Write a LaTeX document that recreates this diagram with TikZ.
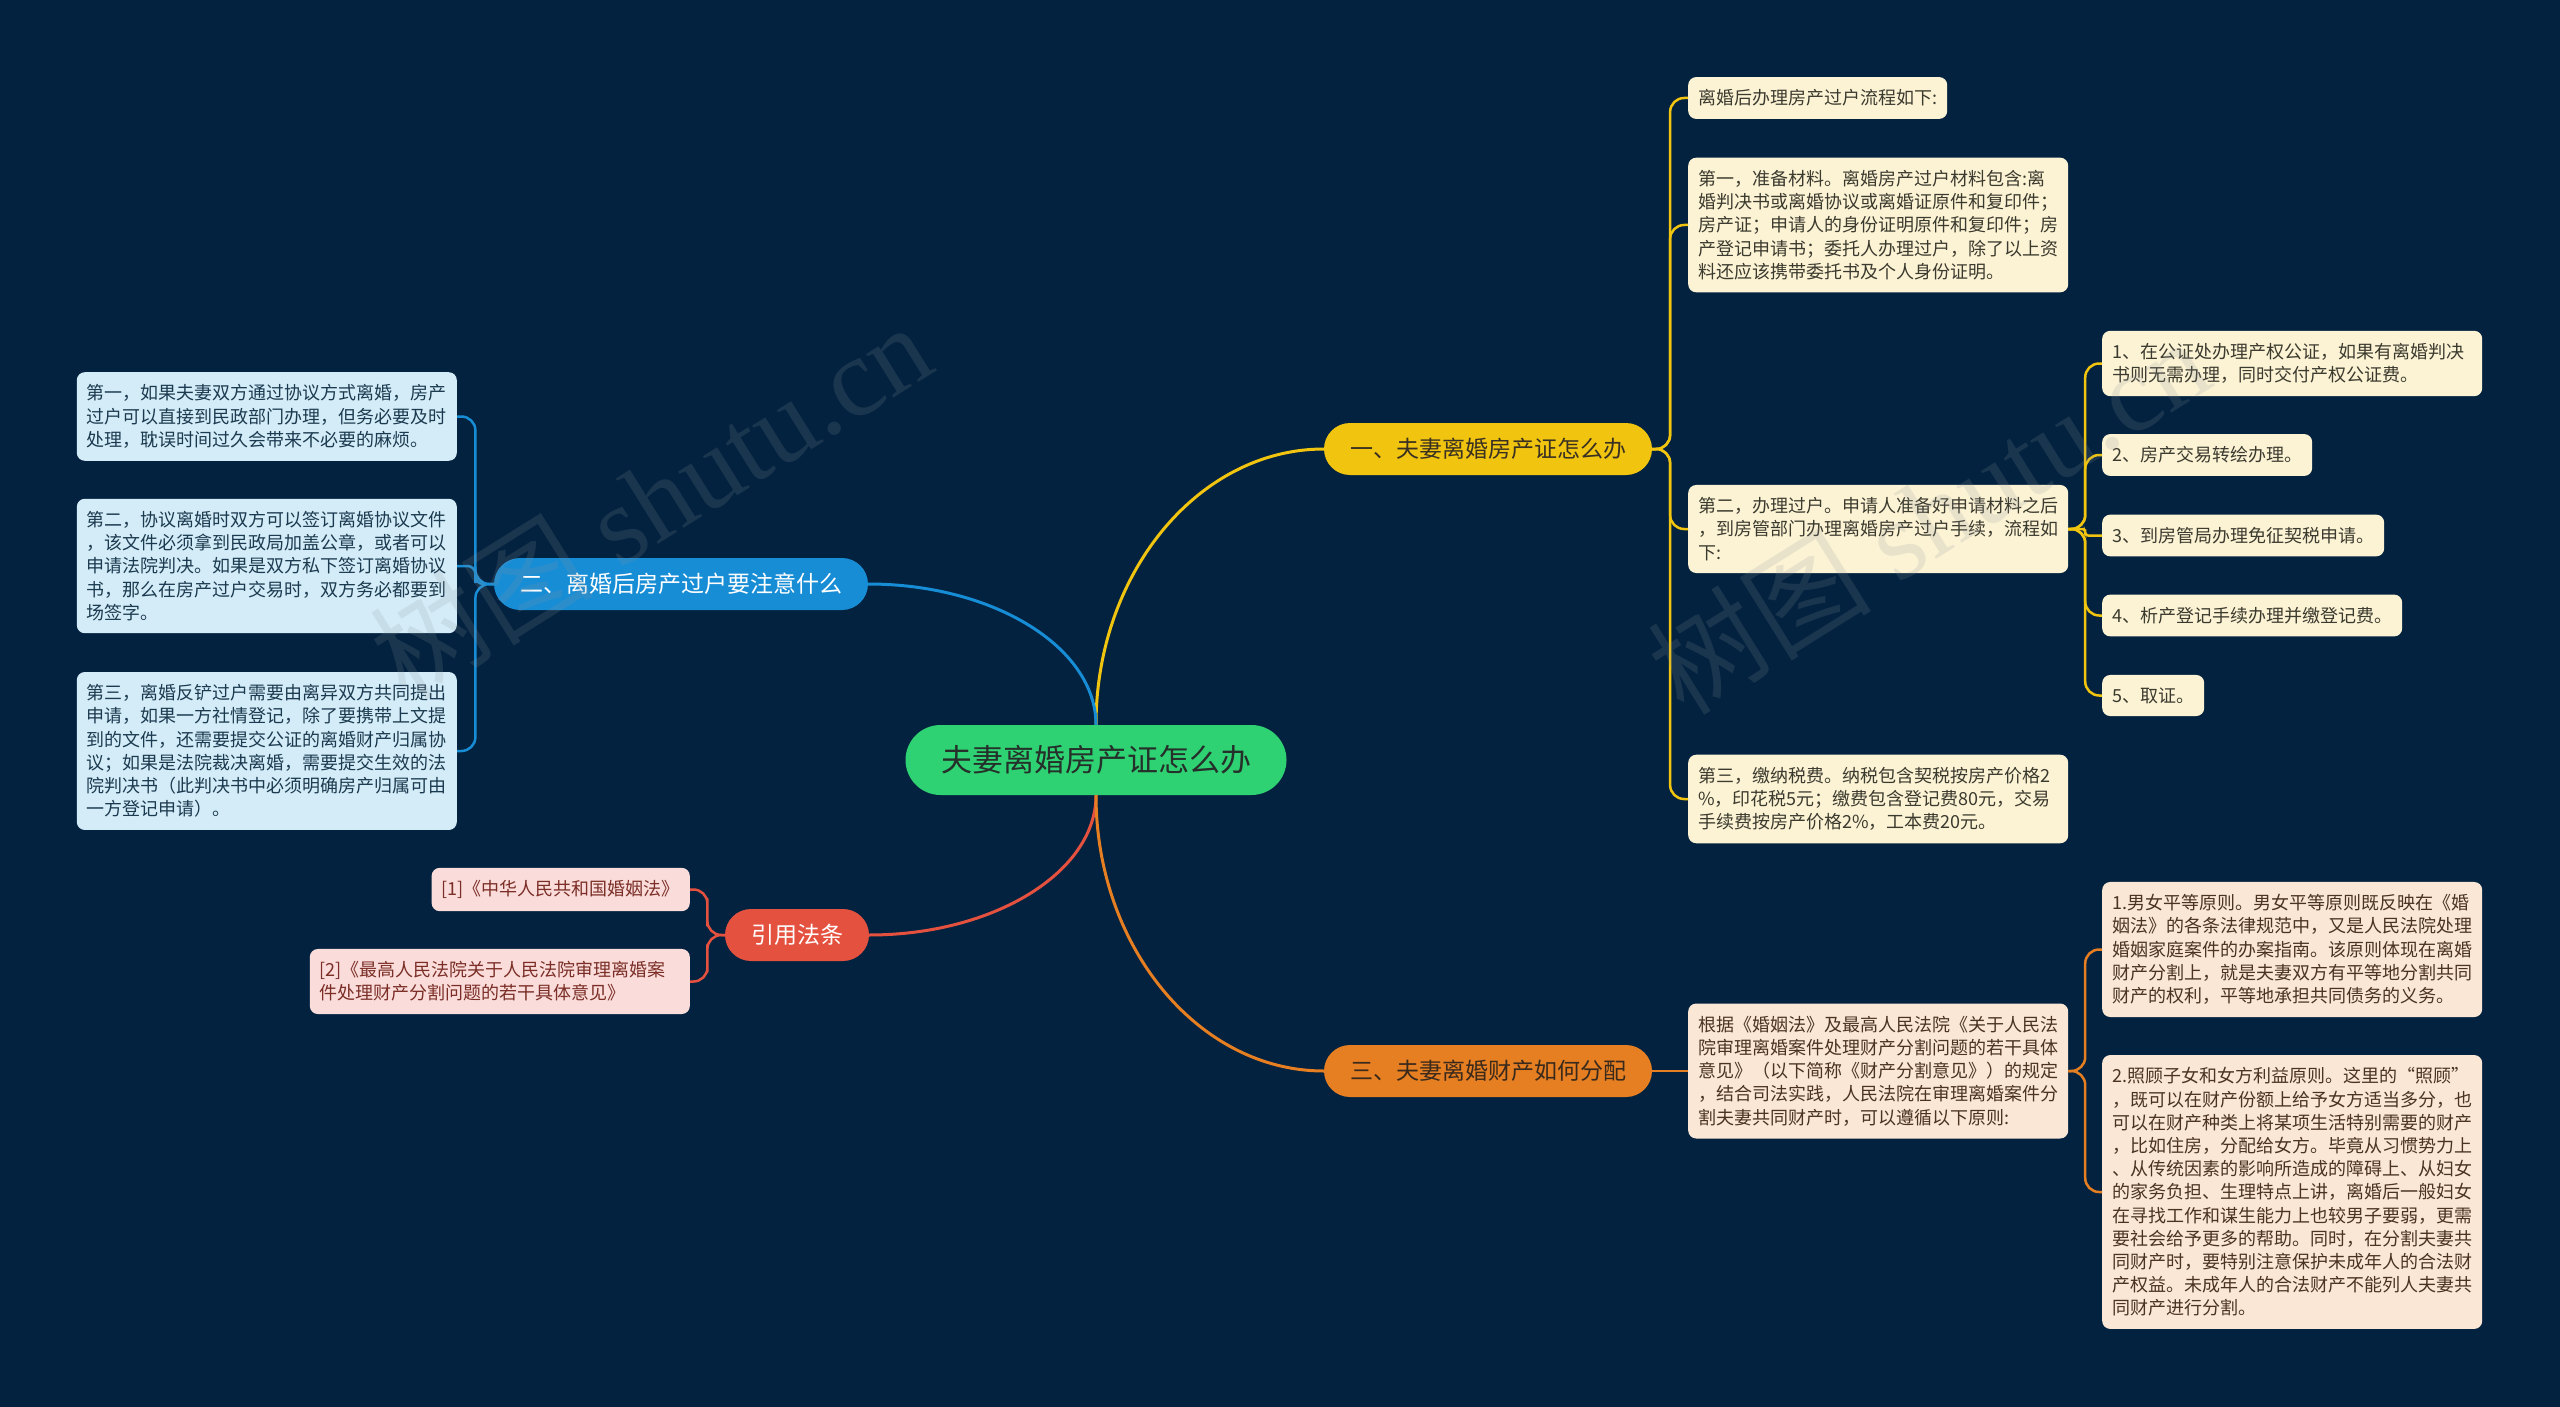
\documentclass[tikz,border=0pt]{standalone}
\usepackage{fontspec}
\newfontfamily\cjk{Noto Sans CJK SC}
\newfontfamily\wmserif{Liberation Serif}
\usetikzlibrary{calc}
\definecolor{bgc}{HTML}{03223F}
\definecolor{grn}{HTML}{2FD273}
\definecolor{ctext}{HTML}{25302A}
\definecolor{yel}{HTML}{F1C40F}
\definecolor{blu}{HTML}{178DD6}
\definecolor{red1}{HTML}{E5513F}
\definecolor{ora}{HTML}{E67E22}
\definecolor{ybtext}{HTML}{3A3122}
\definecolor{obtext}{HTML}{3A2A1C}
\definecolor{yfill}{HTML}{FCF3D5}
\definecolor{ytext}{HTML}{3B3A2E}
\definecolor{bfill}{HTML}{D3ECF8}
\definecolor{btext}{HTML}{1C3A4F}
\definecolor{rfill}{HTML}{FADCDA}
\definecolor{rtext}{HTML}{7A2E26}
\definecolor{ofill}{HTML}{FBE7D6}
\definecolor{otext}{HTML}{4A3322}
\definecolor{wmc}{HTML}{8F949A}
\newcommand\tlink[3]{\draw[link,#1] (#2) -| ($(#2)!0.5!(#3)$) |- (#3);}
\newcommand\mcurve[3]{\draw[mainlink,#1] (#2) .. controls ($(#2)!0.55!(#2 |- #3)$) and ($(#3)!0.55!(#2 |- #3)$) .. (#3);}
\begin{document}
\begin{tikzpicture}[x=1pt,y=-1pt,
  centernode/.style={fill=grn, text=ctext, rounded corners=35pt, minimum height=70pt, minimum width=381pt, inner sep=0pt, font={\cjk\fontsize{31pt}{36pt}\selectfont}},
  branch/.style={rounded corners=26pt, minimum height=52pt, inner xsep=26pt, inner ysep=0pt, font={\cjk\fontsize{23pt}{28pt}\selectfont}},
  leafbase/.style={rounded corners=8pt, inner xsep=10pt, inner ysep=12.5pt, align=left, font={\cjk\fontsize{18pt}{23.2pt}\selectfont}},
  wide/.style={text width=360pt},
  yleaf/.style={leafbase, fill=yfill, text=ytext},
  bleaf/.style={leafbase, fill=bfill, text=btext},
  rleaf/.style={leafbase, fill=rfill, text=rtext},
  oleaf/.style={leafbase, fill=ofill, text=otext},
  link/.style={line width=2.5pt, rounded corners=14pt},
  mainlink/.style={line width=3pt},
  wm/.style={rotate=32, text=wmc, text opacity=0.17, inner sep=0pt, font={\fontsize{112pt}{120pt}\selectfont}}
]
\useasboundingbox (0,0) rectangle (2560,1407);
\fill[bgc] (0,0) rectangle (2560,1407);
\clip (0,0) rectangle (2560,1407);

% center and branches
\node[centernode] (c) at (1096,760) {夫妻离婚房产证怎么办};
\node[branch, fill=yel, text=ybtext] (b1) at (1488,449) {一、夫妻离婚房产证怎么办};
\node[branch, fill=blu, text=white] (b2) at (681,584) {二、离婚后房产过户要注意什么};
\node[branch, fill=red1, text=white] (b3) at (797,935) {引用法条};
\node[branch, fill=ora, text=obtext] (b4) at (1488,1071) {三、夫妻离婚财产如何分配};

% branch 1 leaves
\node[yleaf, anchor=west] (y1) at (1688,98) {离婚后办理房产过户流程如下:};
\node[yleaf, wide, anchor=west] (y2) at (1688,225) {第一，准备材料。离婚房产过户材料包含:离\\婚判决书或离婚协议或离婚证原件和复印件；\\房产证；申请人的身份证明原件和复印件；房\\产登记申请书；委托人办理过户，除了以上资\\料还应该携带委托书及个人身份证明。};
\node[yleaf, wide, anchor=west] (y3) at (1688,529) {第二，办理过户。申请人准备好申请材料之后\\，到房管部门办理离婚房产过户手续，流程如\\下:};
\node[yleaf, wide, anchor=west] (y4) at (1688,799) {第三，缴纳税费。纳税包含契税按房产价格2\\\%，印花税5元；缴费包含登记费80元，交易\\手续费按房产价格2\%，工本费20元。};
\node[yleaf, wide, anchor=west] (s1) at (2102,363.5) {1、在公证处办理产权公证，如果有离婚判决\\书则无需办理，同时交付产权公证费。};
\node[yleaf, anchor=west] (s2) at (2102,455) {2、房产交易转绘办理。};
\node[yleaf, anchor=west] (s3) at (2102,535.5) {3、到房管局办理免征契税申请。};
\node[yleaf, anchor=west] (s4) at (2102,615.5) {4、析产登记手续办理并缴登记费。};
\node[yleaf, anchor=west] (s5) at (2102,695.5) {5、取证。};

% branch 2 leaves
\node[bleaf, wide, anchor=east] (l1) at (457,416.5) {第一，如果夫妻双方通过协议方式离婚，房产\\过户可以直接到民政部门办理，但务必要及时\\处理，耽误时间过久会带来不必要的麻烦。};
\node[bleaf, wide, anchor=east] (l2) at (457,566) {第二，协议离婚时双方可以签订离婚协议文件\\，该文件必须拿到民政局加盖公章，或者可以\\申请法院判决。如果是双方私下签订离婚协议\\书，那么在房产过户交易时，双方务必都要到\\场签字。};
\node[bleaf, wide, anchor=east] (l3) at (457,751) {第三，离婚反铲过户需要由离异双方共同提出\\申请，如果一方社情登记，除了要携带上文提\\到的文件，还需要提交公证的离婚财产归属协\\议；如果是法院裁决离婚，需要提交生效的法\\院判决书（此判决书中必须明确房产归属可由\\一方登记申请）。};

% references
\node[rleaf, anchor=east] (r1) at (690,889.5) {[1]《中华人民共和国婚姻法》};
\node[rleaf, wide, anchor=east] (r2) at (690,981.5) {[2]《最高人民法院关于人民法院审理离婚案\\件处理财产分割问题的若干具体意见》};

% branch 4 leaves
\node[oleaf, wide, anchor=west] (o1) at (1688,1071) {根据《婚姻法》及最高人民法院《关于人民法\\院审理离婚案件处理财产分割问题的若干具体\\意见》（以下简称《财产分割意见》）的规定\\，结合司法实践，人民法院在审理离婚案件分\\割夫妻共同财产时，可以遵循以下原则:};
\node[oleaf, wide, anchor=west] (p1) at (2102,949.5) {1.男女平等原则。男女平等原则既反映在《婚\\姻法》的各条法律规范中，又是人民法院处理\\婚姻家庭案件的办案指南。该原则体现在离婚\\财产分割上，就是夫妻双方有平等地分割共同\\财产的权利，平等地承担共同债务的义务。};
\node[oleaf, wide, anchor=west] (p2) at (2102,1192) {2.照顾子女和女方利益原则。这里的“照顾”\\，既可以在财产份额上给予女方适当多分，也\\可以在财产种类上将某项生活特别需要的财产\\，比如住房，分配给女方。毕竟从习惯势力上\\、从传统因素的影响所造成的障碍上、从妇女\\的家务负担、生理特点上讲，离婚后一般妇女\\在寻找工作和谋生能力上也较男子要弱，更需\\要社会给予更多的帮助。同时，在分割夫妻共\\同财产时，要特别注意保护未成年人的合法财\\产权益。未成年人的合法财产不能列人夫妻共\\同财产进行分割。};

% main connectors
\mcurve{draw=yel}{c.north}{b1.west}
\mcurve{draw=blu}{c.north}{b2.east}
\mcurve{draw=red1}{c.south}{b3.east}
\mcurve{draw=ora}{c.south}{b4.west}

% branch 1 connectors
\tlink{draw=yel}{b1.east}{y1.west}
\tlink{draw=yel}{b1.east}{y2.west}
\tlink{draw=yel}{b1.east}{y3.west}
\tlink{draw=yel}{b1.east}{y4.west}
\tlink{draw=yel}{y3.east}{s1.west}
\tlink{draw=yel}{y3.east}{s2.west}
\tlink{draw=yel,rounded corners=3pt}{y3.east}{s3.west}
\tlink{draw=yel}{y3.east}{s4.west}
\tlink{draw=yel}{y3.east}{s5.west}

% branch 2 connectors
\tlink{draw=blu}{b2.west}{l1.east}
\tlink{draw=blu,rounded corners=8pt}{b2.west}{l2.east}
\tlink{draw=blu}{b2.west}{l3.east}

% reference connectors
\tlink{draw=red1}{b3.west}{r1.east}
\tlink{draw=red1}{b3.west}{r2.east}

% branch 4 connectors
\draw[link,draw=ora] (b4.east) -- (o1.west);
\tlink{draw=ora}{o1.east}{p1.west}
\tlink{draw=ora}{o1.east}{p2.west}

% watermarks
\node[wm] (w1) at (650,500) {{\cjk 树图}\hspace{28pt}{\wmserif shutu.cn}};
\node[wm] (w2) at (1928,515) {{\cjk 树图}\hspace{28pt}{\wmserif shutu.cn}};
\end{tikzpicture}
\end{document}
